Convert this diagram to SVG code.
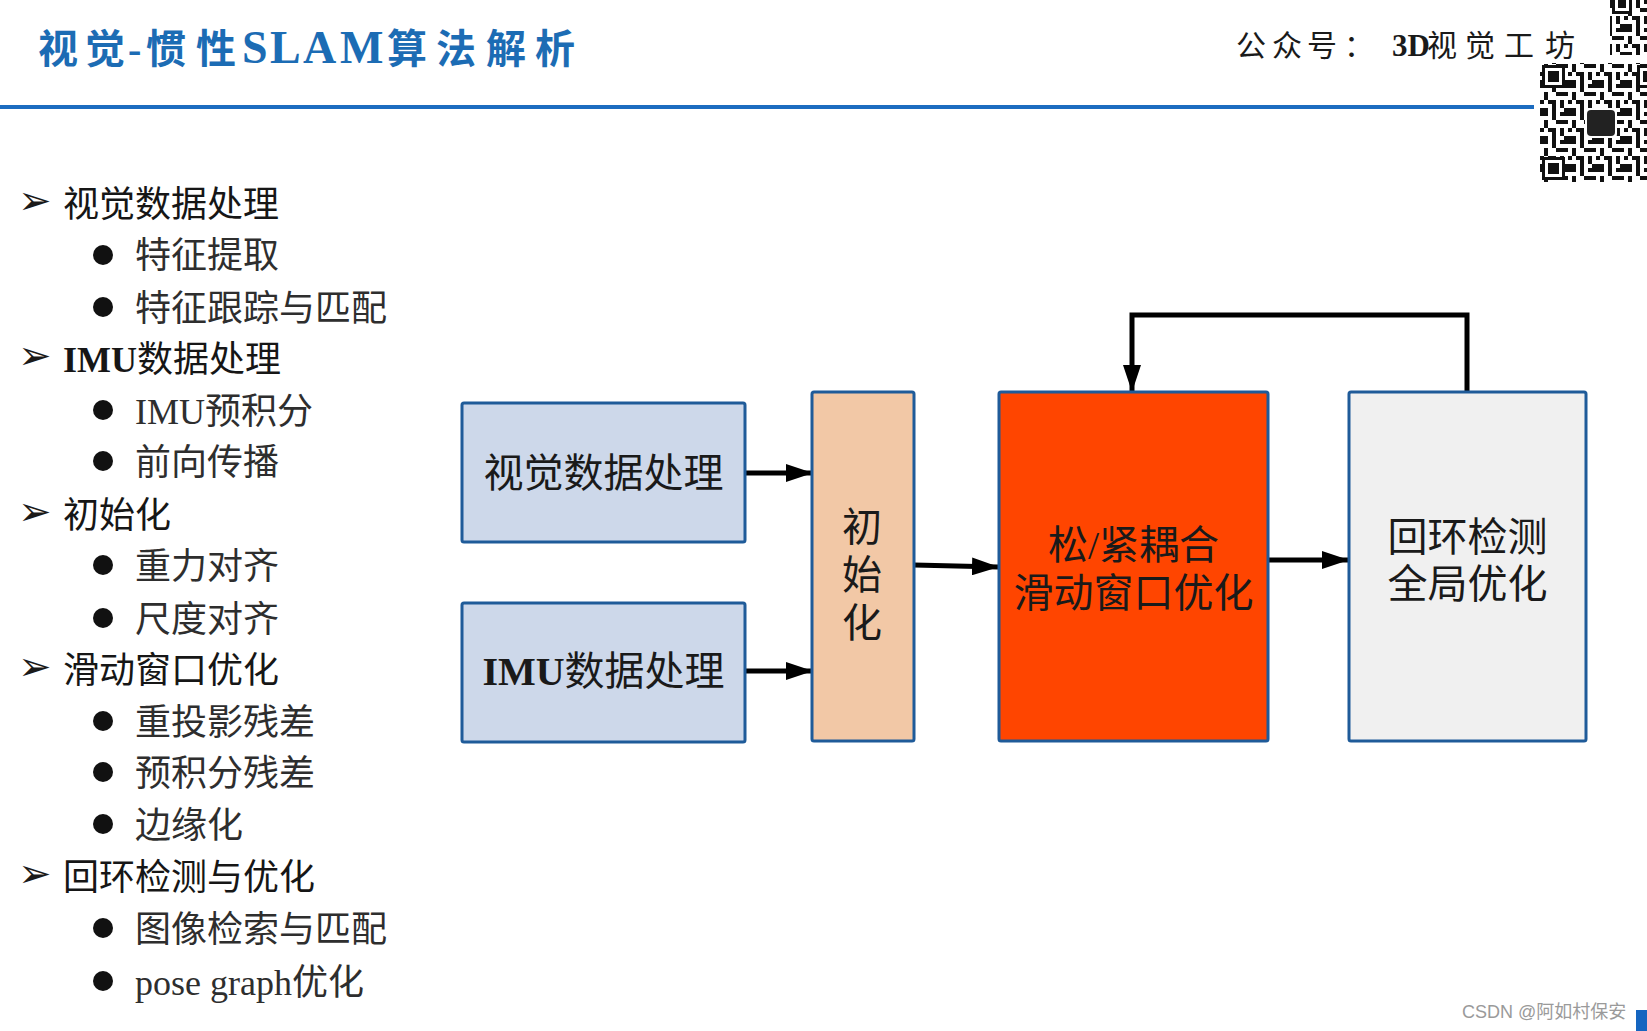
<svg xmlns="http://www.w3.org/2000/svg" width="1647" height="1031" viewBox="0 0 1647 1031">
<style>
.cn{font-family:"Liberation Serif","Noto Sans CJK SC",serif;}
.hd{font-size:36px;fill:#161616;}
.it{font-size:36px;fill:#2e2e2e;}
.mk{font-family:"DejaVu Sans",sans-serif;font-size:40px;fill:#1a1a1a;}
.bx{stroke:#1f5b99;stroke-width:3;}
.bt{font-size:40px;fill:#1a1a1a;text-anchor:middle;}
.conn{fill:none;stroke:#000;stroke-width:5;}
</style>
<defs>
<marker id="ah" markerUnits="userSpaceOnUse" markerWidth="27" markerHeight="18" refX="26" refY="9" orient="auto">
<path d="M0,0 L27,9 L0,18 z" fill="#000"/>
</marker>
<pattern id="qr" width="28" height="28" patternUnits="userSpaceOnUse">
<rect width="28" height="28" fill="#fff"/>
<g fill="#111">
<rect x="0" y="0" width="8" height="4"/><rect x="12" y="0" width="4" height="8"/><rect x="20" y="0" width="8" height="4"/>
<rect x="4" y="8" width="4" height="8"/><rect x="16" y="8" width="8" height="4"/><rect x="0" y="16" width="4" height="4"/>
<rect x="8" y="16" width="8" height="4"/><rect x="20" y="16" width="4" height="8"/><rect x="12" y="20" width="4" height="8"/>
<rect x="0" y="24" width="8" height="4"/><rect x="24" y="24" width="4" height="4"/><rect x="24" y="8" width="4" height="4"/>
</g>
</pattern>
</defs>
<rect width="1647" height="1031" fill="#fff"/>

<g id="header">
<text class="cn" font-size="40" font-weight="bold" fill="#1c6cb4" y="63"><tspan x="38 85">视觉</tspan><tspan x="128">-</tspan><tspan x="146 196">惯性</tspan><tspan font-size="46" x="242 270 303 340">SLAM</tspan><tspan x="387 436 486 535">算法解析</tspan></text>
<line x1="0" y1="107" x2="1534" y2="107" stroke="#1c6cc0" stroke-width="4"/>
<text class="cn" font-size="30" fill="#1a1a1a" x="1236 1272 1307 1344" y="56">公众号：</text>
<text font-family="Liberation Serif,serif" font-weight="bold" font-size="31" fill="#1a1a1a" x="1392" y="56">3D</text>
<text class="cn" font-size="30" fill="#1a1a1a" x="1427 1465 1504 1545" y="56">视觉工坊</text>
</g>

<g id="qrcode">
<rect x="1540" y="63" width="107" height="119" fill="url(#qr)"/>
<rect x="1542" y="65" width="23" height="23" fill="#111"/><rect x="1545" y="68" width="17" height="17" fill="#fff"/><rect x="1548" y="71" width="11" height="11" fill="#111"/>
<rect x="1542" y="157" width="23" height="23" fill="#111"/><rect x="1545" y="160" width="17" height="17" fill="#fff"/><rect x="1548" y="163" width="11" height="11" fill="#111"/>
<rect x="1637" y="65" width="10" height="23" fill="#111"/><rect x="1640" y="68" width="7" height="17" fill="#fff"/><rect x="1643" y="71" width="4" height="11" fill="#111"/>
<rect x="1585" y="108" width="32" height="30" rx="4" fill="#fff"/>
<rect x="1587" y="110" width="28" height="26" rx="4" fill="#222"/>
<rect x="1610" y="0" width="37" height="55" fill="url(#qr)"/>
<rect x="1612" y="0" width="20" height="14" fill="#111"/><rect x="1615" y="0" width="14" height="11" fill="#fff"/><rect x="1618" y="0" width="8" height="8" fill="#111"/>
</g>

<g id="outline">
<text class="mk" x="18" y="214">➢</text>
<text class="cn hd" x="63" y="217">视觉数据处理</text>
<circle cx="103" cy="255" r="10" fill="#111"/>
<text class="cn it" x="135" y="268">特征提取</text>
<circle cx="103" cy="307" r="10" fill="#111"/>
<text class="cn it" x="135" y="321">特征跟踪与匹配</text>
<text class="mk" x="18" y="369">➢</text>
<text class="cn hd" x="63" y="372"><tspan font-weight="bold">IMU</tspan>数据处理</text>
<circle cx="103" cy="410" r="10" fill="#111"/>
<text class="cn it" x="135" y="424">IMU预积分</text>
<circle cx="103" cy="461" r="10" fill="#111"/>
<text class="cn it" x="135" y="475">前向传播</text>
<text class="mk" x="18" y="525">➢</text>
<text class="cn hd" x="63" y="528">初始化</text>
<circle cx="103" cy="565" r="10" fill="#111"/>
<text class="cn it" x="135" y="579">重力对齐</text>
<circle cx="103" cy="618" r="10" fill="#111"/>
<text class="cn it" x="135" y="632">尺度对齐</text>
<text class="mk" x="18" y="680">➢</text>
<text class="cn hd" x="63" y="683">滑动窗口优化</text>
<circle cx="103" cy="721" r="10" fill="#111"/>
<text class="cn it" x="135" y="735">重投影残差</text>
<circle cx="103" cy="772" r="10" fill="#111"/>
<text class="cn it" x="135" y="786">预积分残差</text>
<circle cx="103" cy="824" r="10" fill="#111"/>
<text class="cn it" x="135" y="838">边缘化</text>
<text class="mk" x="18" y="887">➢</text>
<text class="cn hd" x="63" y="890">回环检测与优化</text>
<circle cx="103" cy="928" r="10" fill="#111"/>
<text class="cn it" x="135" y="942">图像检索与匹配</text>
<circle cx="103" cy="981" r="10" fill="#111"/>
<text class="cn it" x="135" y="995">pose graph优化</text>
</g>

<g id="connectors">
<line class="conn" x1="745" y1="473" x2="812" y2="473" marker-end="url(#ah)"/>
<line class="conn" x1="745" y1="671" x2="812" y2="671" marker-end="url(#ah)"/>
<line class="conn" x1="914" y1="565" x2="998" y2="567" marker-end="url(#ah)"/>
<line class="conn" x1="1268" y1="560" x2="1348" y2="560" marker-end="url(#ah)"/>
<polyline class="conn" points="1467,392 1467,315 1132,315 1132,391" marker-end="url(#ah)"/>
</g>

<g id="node-visual">
<rect class="bx" x="462" y="403" width="283" height="139" rx="2" fill="#cdd8ea"/>
<text class="cn bt" x="603.5" y="487">视觉数据处理</text>
</g>
<g id="node-imu">
<rect class="bx" x="462" y="603" width="283" height="139" rx="2" fill="#cdd8ea"/>
<text class="cn bt" x="603.5" y="685"><tspan font-weight="bold">IMU</tspan>数据处理</text>
</g>
<g id="node-init">
<rect class="bx" x="812" y="392" width="102" height="349" rx="2" fill="#f2c8a6"/>
<text class="cn bt" font-size="36" x="862" y="541">初</text>
<text class="cn bt" font-size="36" x="862" y="589">始</text>
<text class="cn bt" font-size="36" x="862" y="637">化</text>
</g>
<g id="node-window">
<rect class="bx" x="999" y="392" width="269" height="349" rx="2" fill="#ff4500"/>
<text class="cn bt" x="1133.5" y="559" fill="#2a1208">松/紧耦合</text>
<text class="cn bt" x="1133.5" y="607" fill="#2a1208">滑动窗口优化</text>
</g>
<g id="node-loop">
<rect class="bx" x="1349" y="392" width="237" height="349" rx="2" fill="#f0f0f0"/>
<text class="cn bt" x="1467.5" y="551">回环检测</text>
<text class="cn bt" x="1467.5" y="598">全局优化</text>
</g>

<g id="footer">
<text font-family="Liberation Sans,Noto Sans CJK SC,sans-serif" font-size="18" fill="#9a9a9a" x="1462" y="1018">CSDN @阿如村保安</text>
<rect x="1636" y="1010" width="11" height="21" fill="#1565c0"/>
</g>
</svg>
